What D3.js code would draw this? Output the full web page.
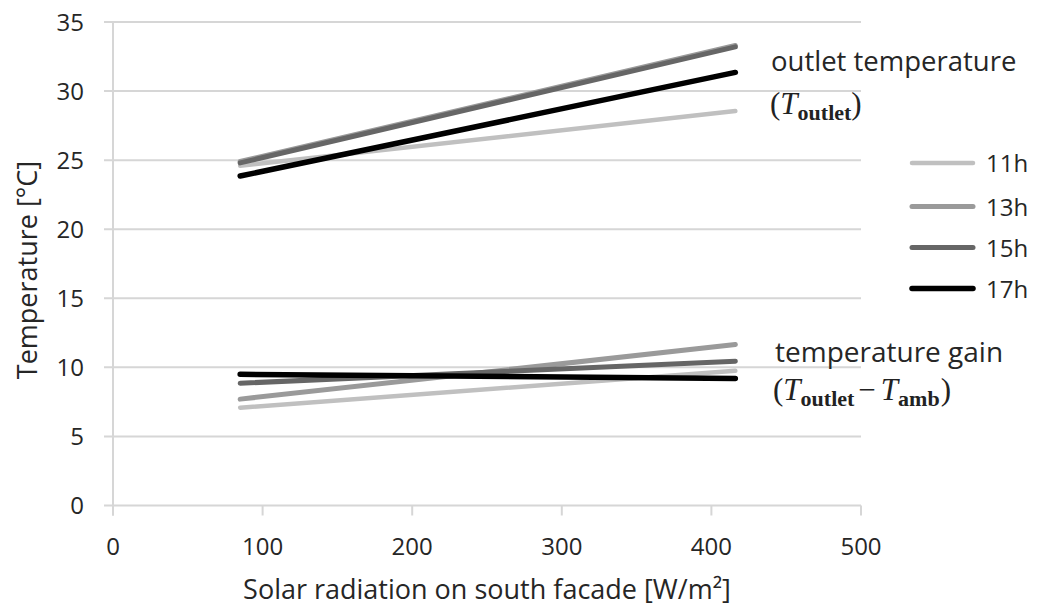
<!DOCTYPE html>
<html>
<head>
<meta charset="utf-8">
<script src="https://cdn.jsdelivr.net/npm/d3@7"></script>
<style>
  html, body { margin: 0; padding: 0; background: #fff; }
  svg { display: block; }
  text { font-family: "Open Sans", "Noto Sans", sans-serif; fill: #262626; }
</style>
</head>
<body>
<svg id="chart" width="1042" height="607"></svg>
<script>
// ---- data ----
const hours = ["11h", "13h", "15h", "17h"];
const radiation = [85, 416];                 // W/m² (start and end of each line)
const outlet11 = [24.6, 28.55];
const outlet13 = [24.9, 33.3];
const outlet15 = [24.8, 33.2];
const outlet17 = [23.85, 31.35];
const gain11 = [7.08, 9.75];
const gain13 = [7.7, 11.65];
const gain15 = [8.85, 10.45];
const gain17 = [9.5, 9.2];
const xTicks = [0, 100, 200, 300, 400, 500];
const yTicks = [0, 5, 10, 15, 20, 25, 30, 35];
const colors = ["#c0c0c0", "#9a9a9a", "#666666", "#000000"];
const widths = [4.5, 5, 5, 5.5];

const outletSeries = [outlet11, outlet13, outlet15, outlet17];
const gainSeries = [gain11, gain13, gain15, gain17];

// ---- layout ----
const svg = d3.select("#chart");
const x = d3.scaleLinear().domain([0, 500]).range([113, 861]);
const y = d3.scaleLinear().domain([0, 35]).range([505.5, 22]);
const grid = "#d6d6d6";

// gridlines
svg.append("g").selectAll("line").data(yTicks).join("line")
  .attr("x1", 104).attr("x2", x(500))
  .attr("y1", d => y(d)).attr("y2", d => y(d))
  .attr("stroke", grid).attr("stroke-width", 2);

// y axis line
svg.append("line").attr("x1", x(0)).attr("x2", x(0))
  .attr("y1", y(35)).attr("y2", y(0) + 10)
  .attr("stroke", grid).attr("stroke-width", 2);

// x ticks
svg.append("g").selectAll("line").data(xTicks).join("line")
  .attr("x1", d => x(d)).attr("x2", d => x(d))
  .attr("y1", y(0)).attr("y2", y(0) + 10)
  .attr("stroke", grid).attr("stroke-width", 2);

// tick labels
svg.append("g").selectAll("text").data(yTicks).join("text")
  .attr("x", 84).attr("y", d => y(d)).attr("dy", "0.36em")
  .attr("text-anchor", "end").attr("font-size", 24)
  .text(d => d);
svg.append("g").selectAll("text").data(xTicks).join("text")
  .attr("x", d => x(d)).attr("y", 555)
  .attr("text-anchor", "middle").attr("font-size", 24)
  .text(d => d);

// axis titles
svg.append("text").attr("x", (x(0) + x(500)) / 2).attr("y", 599)
  .attr("text-anchor", "middle").attr("font-size", 27)
  .text("Solar radiation on south facade [W/m²]");
svg.append("text").attr("transform", "translate(37,270) rotate(-90)")
  .attr("text-anchor", "middle").attr("font-size", 27)
  .text("Temperature [°C]");

// lines
const line = d3.line().x((d, i) => x(radiation[i])).y(d => y(d));
function drawSeries(series) {
  svg.append("g").selectAll("path").data(series).join("path")
    .attr("d", d => line(d))
    .attr("fill", "none")
    .attr("stroke", (d, i) => colors[i])
    .attr("stroke-width", (d, i) => widths[i])
    .attr("stroke-linecap", "round");
}
drawSeries(outletSeries);
drawSeries(gainSeries);

// legend
const leg = svg.append("g");
const legY = [163, 206.5, 247.5, 288.5];
hours.forEach((h, i) => {
  leg.append("line").attr("x1", 912).attr("x2", 973)
    .attr("y1", legY[i]).attr("y2", legY[i])
    .attr("stroke", colors[i]).attr("stroke-width", widths[i])
    .attr("stroke-linecap", "round");
  leg.append("text").attr("x", 986).attr("y", legY[i]).attr("dy", "0.38em")
    .attr("font-size", 24).text(h);
});

// annotations
const serif = "'Liberation Serif', 'DejaVu Serif', serif";
svg.append("text").attr("x", 771).attr("y", 71).attr("font-size", 27.5)
  .text("outlet temperature");
const t1 = svg.append("text").attr("x", 770).attr("y", 114)
  .style("font-family", serif).attr("font-size", 31).style("fill", "#222");
t1.append("tspan").text("(");
t1.append("tspan").attr("font-style", "italic").text("T");
t1.append("tspan").attr("font-weight", "bold").attr("font-size", 22).attr("dy", 6).text("outlet");
t1.append("tspan").attr("dy", -6).text(")");

svg.append("text").attr("x", 775).attr("y", 362).attr("font-size", 28)
  .text("temperature gain");
const t2 = svg.append("text").attr("x", 773).attr("y", 400)
  .style("font-family", serif).attr("font-size", 31).style("fill", "#222");
t2.append("tspan").text("(");
t2.append("tspan").attr("font-style", "italic").text("T");
t2.append("tspan").attr("font-weight", "bold").attr("font-size", 22).attr("dy", 6).text("outlet");
t2.append("tspan").attr("dy", -6).attr("dx", 4).text("−");
t2.append("tspan").attr("font-style", "italic").attr("dx", 5).text("T");
t2.append("tspan").attr("font-weight", "bold").attr("font-size", 22).attr("dy", 6).text("amb");
t2.append("tspan").attr("dy", -6).attr("dx", 1).text(")");
</script>
</body>
</html>
